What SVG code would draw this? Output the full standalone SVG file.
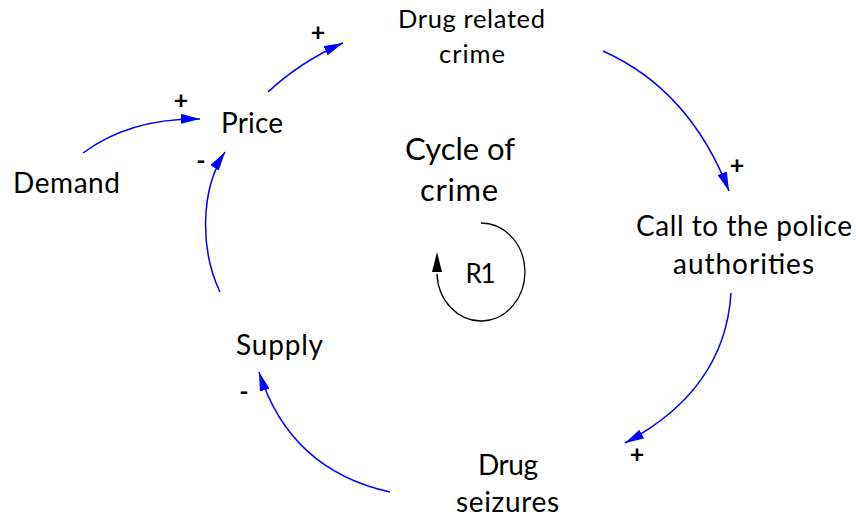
<svg xmlns="http://www.w3.org/2000/svg" width="856" height="519" viewBox="0 0 856 519">
<style>
.t{font-family:Lato,"Open Sans","Liberation Sans",sans-serif;fill:#000;text-anchor:middle}
.s{font-family:Lato,"Liberation Sans",sans-serif;font-weight:bold;font-size:25px;fill:#000;text-anchor:middle}
.c{fill:none;stroke:#0000ff;stroke-width:1.5;marker-end:url(#ah)}
</style>
<defs>
<marker id="ah" viewBox="0 0 19 10" refX="19" refY="5" markerWidth="19" markerHeight="10" markerUnits="userSpaceOnUse" orient="auto">
<path d="M0,0 L19,5 L0,10 Z" fill="#0000ff"/>
</marker>
</defs>
<rect width="856" height="519" fill="#fff"/>
<g id="connectors">
<path class="c" d="M83,153 Q130,118 200,119"/>
<path class="c" d="M268,92 Q300,62 343,43"/>
<path class="c" d="M603,51 Q690,90 729,191"/>
<path class="c" d="M731,293 Q725,390 625,443"/>
<path class="c" d="M390,492 Q290,470 259,372"/>
<path class="c" d="M220,292 C200,250 200,190 225,152"/>
</g>
<g id="signs">
<text class="s" x="318" y="41">+</text>
<text class="s" x="181" y="109">+</text>
<text class="s" x="201" y="169">-</text>
<text class="s" x="737" y="174">+</text>
<text class="s" x="244" y="400">-</text>
<text class="s" x="637" y="463">+</text>
</g>
<g id="drug-related-crime">
<text class="t" font-size="25.5" x="471.5" y="28" textLength="147">Drug related</text>
<text class="t" font-size="25.5" x="472" y="63" textLength="66">crime</text>
</g>
<g id="price"><text class="t" font-size="28" x="252" y="133" textLength="62">Price</text></g>
<g id="demand"><text class="t" font-size="28" x="66.5" y="193" textLength="107">Demand</text></g>
<g id="call-police">
<text class="t" font-size="28" x="744" y="236" textLength="216">Call to the police</text>
<text class="t" font-size="28" x="743.5" y="274" textLength="141">authorities</text>
</g>
<g id="supply"><text class="t" font-size="28" x="279.5" y="355" textLength="87">Supply</text></g>
<g id="drug-seizures">
<text class="t" font-size="28" x="508" y="475" textLength="60">Drug</text>
<text class="t" font-size="28" x="507.5" y="512" textLength="103">seizures</text>
</g>
<g id="loop-r1">
<text class="t" font-size="31" x="460" y="160" textLength="110">Cycle of</text>
<text class="t" font-size="31" x="459" y="201" textLength="78">crime</text>
<path d="M481,223 A44,49 0 1 1 437,274" fill="none" stroke="#000" stroke-width="1.3"/>
<path d="M437,252 L432,272 L442,272 Z" fill="#000"/>
<text class="t" font-size="26" x="480.5" y="283" textLength="30">R1</text>
</g>
</svg>
